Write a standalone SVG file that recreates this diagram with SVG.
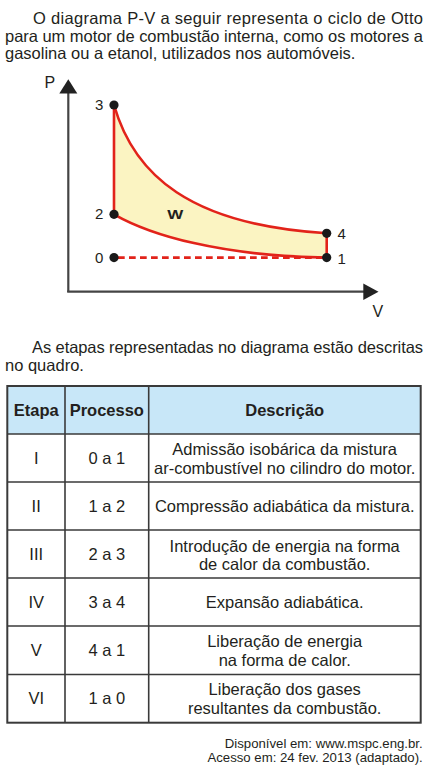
<svg xmlns="http://www.w3.org/2000/svg" width="445" height="772" viewBox="0 0 445 772">
<style>
  text { font-family: "Liberation Sans", Arial, sans-serif; fill: #231f20; }
  .body { font-size: 16.5px; }
  .lbl { font-size: 15px; }
  .ax { font-size: 16px; }
  .hdr { font-size: 16.5px; font-weight: bold; text-anchor: middle; }
  .cell { font-size: 16.5px; text-anchor: middle; }
  .cite { font-size: 13.2px; text-anchor: end; }
  .axis { stroke: #444; stroke-width: 2.2; fill: none; }
  .cyc { stroke: #e2231a; stroke-width: 2.6; fill: none; stroke-linejoin: round; }
  .dot { fill: #1a1a1a; }
  .grid { stroke: #3a3a3a; stroke-width: 1.6; fill: none; }
</style>
<rect width="445" height="772" fill="#ffffff"/>

<!-- intro paragraph -->
<text class="body" x="33" y="24" textLength="390" lengthAdjust="spacing">O diagrama P-V a seguir representa o ciclo de Otto</text>
<text class="body" x="5" y="41.7" textLength="418" lengthAdjust="spacing">para um motor de combustão interna, como os motores a</text>
<text class="body" x="5" y="59.3">gasolina ou a etanol, utilizados nos automóveis.</text>

<!-- axes -->
<g id="axes">
  <line class="axis" x1="68.3" y1="292" x2="68.3" y2="92"/>
  <path d="M59.3,93.5 L68.3,79.3 L77.3,93.5 Z" fill="#222"/>
  <line class="axis" x1="67.2" y1="291.7" x2="364" y2="291.7"/>
  <path d="M363.3,283.5 L378.5,291.7 L363.3,300 Z" fill="#222"/>
  <text class="ax" x="44.5" y="88.3">P</text>
  <text class="ax" x="372.5" y="316.7">V</text>
</g>

<!-- cycle area and connectors -->
<g id="connectors">
  <path d="M114,105 C134,175 190,225 326.7,233.3 L326.7,257.5 C220,256 150,235 114,214.3 Z" fill="#fbf4c2" stroke="none"/>
  <path id="c34" class="cyc" d="M114,105 C134,175 190,225 326.7,233.3"/>
  <path id="c21" class="cyc" d="M114,214.3 C150,235 220,256 326.7,257.5"/>
  <line id="c23" class="cyc" x1="114" y1="214.3" x2="114" y2="105"/>
  <line id="c41" class="cyc" x1="326.7" y1="233.3" x2="326.7" y2="257.5"/>
  <line id="c01" class="cyc" x1="118" y1="257.6" x2="326" y2="257.6" stroke-dasharray="6.7 4.3" stroke-width="2.4"/>
</g>
<text x="167.3" y="219.3" font-size="13" font-weight="bold" textLength="16" lengthAdjust="spacingAndGlyphs">W</text>

<g id="p3"><circle class="dot" cx="114" cy="105" r="4.6"/><text class="lbl" x="95" y="109.5">3</text></g>
<g id="p2"><circle class="dot" cx="114" cy="214.3" r="4.6"/><text class="lbl" x="95" y="219">2</text></g>
<g id="p0"><circle class="dot" cx="114" cy="257.6" r="4.6"/><text class="lbl" x="95" y="263">0</text></g>
<g id="p4"><circle class="dot" cx="326.7" cy="233.3" r="4.6"/><text class="lbl" x="337.5" y="238.5">4</text></g>
<g id="p1"><circle class="dot" cx="326.7" cy="257.6" r="4.6"/><text class="lbl" x="337.5" y="263.5">1</text></g>

<!-- second paragraph -->
<text class="body" x="32" y="353.3" textLength="391" lengthAdjust="spacing">As etapas representadas no diagrama estão descritas</text>
<text class="body" x="5" y="371">no quadro.</text>

<!-- table -->
<g id="table">
  <rect x="7.3" y="386" width="413.4" height="48" fill="#c8e7f8"/>
  <rect x="7.3" y="386" width="413.4" height="336.7" fill="none" stroke="#3a3a3a" stroke-width="2"/>
  <line class="grid" x1="65" y1="386" x2="65" y2="722.7"/>
  <line class="grid" x1="148.7" y1="386" x2="148.7" y2="722.7"/>
  <line class="grid" x1="7.3" y1="434" x2="420.7" y2="434"/>
  <line class="grid" x1="7.3" y1="482" x2="420.7" y2="482"/>
  <line class="grid" x1="7.3" y1="530" x2="420.7" y2="530"/>
  <line class="grid" x1="7.3" y1="578" x2="420.7" y2="578"/>
  <line class="grid" x1="7.3" y1="626" x2="420.7" y2="626"/>
  <line class="grid" x1="7.3" y1="674.5" x2="420.7" y2="674.5"/>

  <text class="hdr" x="36.2" y="416">Etapa</text>
  <text class="hdr" x="106.8" y="416">Processo</text>
  <text class="hdr" x="284.7" y="416">Descrição</text>

  <text class="cell" x="36.2" y="464">I</text>
  <text class="cell" x="106.8" y="464">0 a 1</text>
  <text class="cell" x="284.7" y="455">Admissão isobárica da mistura</text>
  <text class="cell" x="284.7" y="474.3">ar-combustível no cilindro do motor.</text>

  <text class="cell" x="36.2" y="512">II</text>
  <text class="cell" x="106.8" y="512">1 a 2</text>
  <text class="cell" x="284.7" y="512">Compressão adiabática da mistura.</text>

  <text class="cell" x="36.2" y="560">III</text>
  <text class="cell" x="106.8" y="560">2 a 3</text>
  <text class="cell" x="284.7" y="551.5">Introdução de energia na forma</text>
  <text class="cell" x="284.7" y="570">de calor da combustão.</text>

  <text class="cell" x="36.2" y="608">IV</text>
  <text class="cell" x="106.8" y="608">3 a 4</text>
  <text class="cell" x="284.7" y="608">Expansão adiabática.</text>

  <text class="cell" x="36.2" y="656">V</text>
  <text class="cell" x="106.8" y="656">4 a 1</text>
  <text class="cell" x="284.7" y="646.7">Liberação de energia</text>
  <text class="cell" x="284.7" y="666">na forma de calor.</text>

  <text class="cell" x="36.2" y="704">VI</text>
  <text class="cell" x="106.8" y="704">1 a 0</text>
  <text class="cell" x="284.7" y="695">Liberação dos gases</text>
  <text class="cell" x="284.7" y="714">resultantes da combustão.</text>
</g>

<text class="cite" x="422.7" y="747.7">Disponível em: www.mspc.eng.br.</text>
<text class="cite" x="422.7" y="762.3">Acesso em: 24 fev. 2013 (adaptado).</text>
</svg>
